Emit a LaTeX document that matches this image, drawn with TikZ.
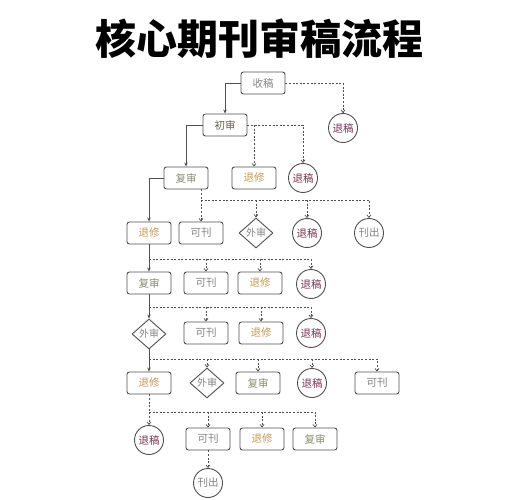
\documentclass[tikz,border=0pt]{standalone}
\usepackage{fontspec}
\setmainfont{Noto Sans CJK SC}
\newfontfamily\titlefont{Noto Sans CJK SC Black}
\usetikzlibrary{shapes.geometric,arrows.meta}

\definecolor{linegray}{HTML}{505050}
\definecolor{txtgray}{HTML}{858585}
\definecolor{txtbrown}{HTML}{6B6055}
\definecolor{txtolive}{HTML}{8A8E74}
\definecolor{txttan}{HTML}{C49A5A}
\definecolor{txtmaroon}{HTML}{7B3552}

\begin{document}
\begin{tikzpicture}[x=1pt,y=-1pt,
    box/.style={draw=linegray, line width=0.9pt, rounded corners=2.5pt,
        fill=white, minimum width=44pt, minimum height=22pt, inner sep=0pt,
        font=\fontsize{10.5}{12}\selectfont},
    ring/.style={draw=linegray, line width=0.9pt, circle, fill=white,
        minimum size=29pt, inner sep=0pt, font=\fontsize{10.5}{12}\selectfont},
    gate/.style={draw=linegray, line width=0.9pt, diamond, fill=white,
        minimum width=34pt, minimum height=30pt, inner sep=0pt,
        font=\fontsize{10}{12}\selectfont},
    link/.style={draw=linegray, line width=0.9pt, -{Stealth[length=4pt,width=3.5pt]}},
    dlink/.style={draw=linegray, line width=0.75pt, dash pattern=on 2pt off 1.6pt,
        -{Straight Barb[length=2.5pt,width=4pt]}}]

% Page frame
\useasboundingbox[fill=white] (0,0) rectangle (514,500);

% Title
\node[font=\titlefont\fontsize{41}{43}\selectfont] (title) at (259,39) {核心期刊审稿流程};

% Receive and first review
\node[box, text=txtgray] (shougao) at (263,83) {收稿};
\node[ring, text=txtmaroon] (tuigao1) at (343,128) {退稿};
\node[box, text=txtbrown] (chushen) at (225,125) {初审};

% Row after first review
\node[box, text=txtolive] (fushen1) at (186,178) {复审};
\node[box, text=txttan] (tuixiu1) at (254,178) {退修};
\node[ring, text=txtmaroon] (tuigao2) at (303,178) {退稿};

% Row after re-review
\node[box, text=txttan] (tuixiu2) at (149,233) {退修};
\node[box, text=txtgray] (kekan1) at (201,233) {可刊};
\node[gate, text=txtgray] (waishen1) at (256,233) {外审};
\node[ring, text=txtmaroon] (tuigao3) at (307,233) {退稿};
\node[ring, text=txtgray] (kanchu1) at (369,233) {刊出};

% Row after revision
\node[box, text=txtolive] (fushen2) at (149,283) {复审};
\node[box, text=txtgray] (kekan2) at (206,283) {可刊};
\node[box, text=txttan] (tuixiu4) at (260,283) {退修};
\node[ring, text=txtmaroon] (tuigao4) at (311,284) {退稿};

% Row of external review
\node[gate, text=txtgray] (waishen2) at (149,334) {外审};
\node[box, text=txtgray] (kekan3) at (206,333) {可刊};
\node[box, text=txttan] (tuixiu5) at (261,333) {退修};
\node[ring, text=txtmaroon] (tuigao5) at (311,333) {退稿};

% Row after external review
\node[box, text=txttan] (tuixiu3) at (149,383) {退修};
\node[gate, text=txtgray] (waishen3) at (207,383) {外审};
\node[box, text=txtolive] (fushen3) at (258,383) {复审};
\node[ring, text=txtmaroon] (tuigao6) at (312,383) {退稿};
\node[box, text=txtgray] (kekan4) at (377,383) {可刊};

% Last rows
\node[ring, text=txtmaroon] (tuigao7) at (149,440) {退稿};
\node[box, text=txtgray] (kekan5) at (208,439) {可刊};
\node[box, text=txttan] (tuixiu6) at (262,439) {退修};
\node[box, text=txtolive] (fushen4) at (315,439) {复审};
\node[ring, text=txtgray] (kanchu2) at (208,483) {刊出};

% Junctions of the dashed branches
\coordinate (j2) at (201,200);
\coordinate (j3) at (149,259);
\coordinate (j4) at (149,307);
\coordinate (j5) at (149,359);
\coordinate (j6) at (149,412);

% Main path
\draw[link] (shougao.west) -| (chushen.north);
\draw[link] (chushen.west) -| (fushen1.north);
\draw[link] (fushen1.west) -| (tuixiu2.north);
\draw[link] (tuixiu2.south) -- (fushen2.north);
\draw[link] (fushen2.south) -- (waishen2.north);
\draw[link] (waishen2.south) -- (tuixiu3.north);

% Dashed branches
\draw[dlink] (shougao.east) -| (tuigao1.north);
\draw[dlink] (chushen.east) -| (tuigao2.north);
\draw[dlink] (chushen.east -| tuixiu1) -- (tuixiu1.north);

\draw[dlink] (fushen1.south -| kekan1) -- (kekan1.north);
\draw[dlink] (j2) -| (kanchu1.north);
\draw[dlink] (j2 -| waishen1) -- (waishen1.north);
\draw[dlink] (j2 -| tuigao3) -- (tuigao3.north);

\draw[dlink] (j3) -| (tuigao4.north);
\draw[dlink] (j3 -| kekan2) -- (kekan2.north);
\draw[dlink] (j3 -| tuixiu4) -- (tuixiu4.north);

\draw[dlink] (j4) -| (tuigao5.north);
\draw[dlink] (j4 -| kekan3) -- (kekan3.north);
\draw[dlink] (j4 -| tuixiu5) -- (tuixiu5.north);

\draw[dlink] (j5) -| (kekan4.north);
\draw[dlink] (j5 -| waishen3) -- (waishen3.north);
\draw[dlink] (j5 -| fushen3) -- (fushen3.north);
\draw[dlink] (j5 -| tuigao6) -- (tuigao6.north);

\draw[dlink] (tuixiu3.south) -- (tuigao7.north);
\draw[dlink] (j6) -| (fushen4.north);
\draw[dlink] (j6 -| kekan5) -- (kekan5.north);
\draw[dlink] (j6 -| tuixiu6) -- (tuixiu6.north);
\draw[dlink] (kekan5.south) -- (kanchu2.north);

\end{tikzpicture}
\end{document}
